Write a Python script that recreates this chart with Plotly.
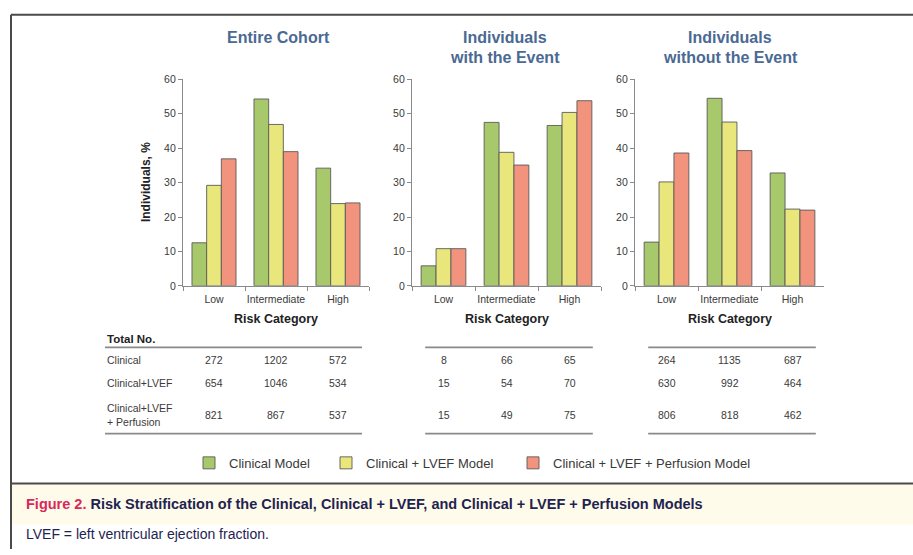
import plotly.graph_objects as go

# ---- data -------------------------------------------------------------
categories = ["Low", "Intermediate", "High"]

model_names = ["Clinical Model", "Clinical + LVEF Model", "Clinical + LVEF + Perfusion Model"]
model_colors = ["#a8c86c", "#e9e77b", "#f2937d"]

panel_titles = [["Entire Cohort"], ["Individuals", "with the Event"], ["Individuals", "without the Event"]]

# percentage of individuals per risk category
entire_clinical = [12.5, 54.3, 34.2]
entire_lvef = [29.2, 46.9, 23.9]
entire_perf = [36.9, 39.0, 24.1]

event_clinical = [5.8, 47.5, 46.6]
event_lvef = [10.8, 38.8, 50.4]
event_perf = [10.8, 35.1, 53.8]

noevent_clinical = [12.7, 54.5, 32.8]
noevent_lvef = [30.2, 47.6, 22.3]
noevent_perf = [38.6, 39.3, 22.0]

# total numbers per risk category
row_labels = ["Clinical", "Clinical+LVEF", "Clinical+LVEF<br>+ Perfusion"]
entire_counts = [[272, 1202, 572], [654, 1046, 534], [821, 867, 537]]
event_counts = [[8, 66, 65], [15, 54, 70], [15, 49, 75]]
noevent_counts = [[264, 1135, 687], [630, 992, 464], [806, 818, 462]]

y_ticks = [0, 10, 20, 30, 40, 50, 60]

panels = [
    ([entire_clinical, entire_lvef, entire_perf], entire_counts),
    ([event_clinical, event_lvef, event_perf], event_counts),
    ([noevent_clinical, noevent_lvef, noevent_perf], noevent_counts),
]

# ---- page geometry (pixels) ------------------------------------------
W, H = 913, 555


def fx(px):
    return px / W


def fy(py):
    return 1 - py / H


x_domains = [(183, 369), (412, 601), (635, 824)]
y_domain = (286, 75)

FONT = "Liberation Sans, Arial, Helvetica, sans-serif"
AXIS_GRAY = "#8a8a8a"
TEXT_GRAY = "#3a3a3a"
TITLE_BLUE = "#4a6993"

# one legend box per model so each entry sits at its own spot
legend_ids = ["legend", "legend2", "legend3"]
legend_x = [189, 326, 513]

fig = go.Figure()

for p, (series, counts) in enumerate(panels):
    xa = "x" if p == 0 else f"x{p + 1}"
    ya = "y" if p == 0 else f"y{p + 1}"
    for name, color, vals, lg in zip(model_names, model_colors, series, legend_ids):
        fig.add_trace(go.Bar(
            x=categories, y=vals, name=name, xaxis=xa, yaxis=ya,
            marker=dict(color=color, line=dict(color="#5a5a5a", width=0.9)),
            showlegend=(p == 0), legendgroup=name, legend=lg, hoverinfo="x+y",
        ))

axis_common = dict(
    showline=True, linecolor=AXIS_GRAY, linewidth=1.2,
    ticks="outside", tickcolor=AXIS_GRAY, ticklen=4, tickwidth=1.2,
    showgrid=False, zeroline=False, fixedrange=True,
    tickfont=dict(family=FONT, size=10.5, color=TEXT_GRAY),
)

layout_axes = {}
for p, (x0, x1) in enumerate(x_domains):
    sfx = "" if p == 0 else str(p + 1)
    layout_axes[f"xaxis{sfx}"] = dict(
        axis_common, domain=[fx(x0), fx(x1)], type="category",
        categoryorder="array", categoryarray=categories,
        range=[-0.5, 2.5], tickson="boundaries", tickangle=0,
        ticklabelstandoff=3, anchor=f"y{sfx}",
    )
    layout_axes[f"yaxis{sfx}"] = dict(
        axis_common, domain=[fy(y_domain[0]), fy(y_domain[1])],
        range=[0, 60], tickvals=y_ticks, anchor=f"x{sfx}",
    )

annotations = []
shapes = []

# panel titles (one annotation per line)
title_centers = [278, 505, 730]
title_lines_y = [32, 53]
for lines, cx in zip(panel_titles, title_centers):
    for line, ly in zip(lines, title_lines_y):
        annotations.append(dict(
            text=f"<b>{line}</b>", x=fx(cx), y=fy(ly), xref="paper", yref="paper",
            xanchor="center", yanchor="middle", showarrow=False,
            font=dict(family=FONT, size=16, color=TITLE_BLUE),
        ))

# axis titles
annotations.append(dict(
    text="<b>Individuals, %</b>", x=fx(146), y=fy(180), xref="paper", yref="paper",
    textangle=-90, showarrow=False, xanchor="center", yanchor="middle",
    font=dict(family=FONT, size=12, color="#222"),
))
for p, (x0, x1) in enumerate(x_domains):
    annotations.append(dict(
        text="<b>Risk Category</b>", x=fx((x0 + x1) / 2), y=fy(320),
        xref="paper", yref="paper", showarrow=False,
        xanchor="center", yanchor="middle",
        font=dict(family=FONT, size=12.5, color="#222"),
    ))

# table of total numbers under each panel
row_y = [362, 385, 418]
annotations.append(dict(
    text="<b>Total No.</b>", x=fx(105), y=fy(340), xref="paper", yref="paper",
    xanchor="left", yanchor="middle", showarrow=False,
    font=dict(family=FONT, size=11.5, color="#222"),
))
for label, ry in zip(row_labels, row_y):
    annotations.append(dict(
        text=label, x=fx(105), y=fy(ry), xref="paper", yref="paper",
        xanchor="left", yanchor="middle", showarrow=False, align="left",
        font=dict(family=FONT, size=10.5, color=TEXT_GRAY),
    ))

for p, (series, counts) in enumerate(panels):
    xa = "x" if p == 0 else f"x{p + 1}"
    for row, ry in zip(counts, row_y):
        for cat, n in zip(categories, row):
            annotations.append(dict(
                text=str(n), x=cat, y=fy(ry), xref=xa, yref="paper",
                xanchor="center", yanchor="middle", showarrow=False,
                font=dict(family=FONT, size=10.5, color=TEXT_GRAY),
            ))
    for ly in (349, 437):
        if p == 0:
            shapes.append(dict(type="line", xref="paper", yref="paper",
                               x0=fx(105), x1=fx(362), y0=fy(ly), y1=fy(ly),
                               line=dict(color=AXIS_GRAY, width=1.8)))
        else:
            shapes.append(dict(type="line", xref=xa, yref="paper",
                               x0=-0.29, x1=2.37, y0=fy(ly), y1=fy(ly),
                               line=dict(color=AXIS_GRAY, width=1.8)))

# frame around the figure and caption band
FRAME = "#4a4a4a"
shapes += [
    dict(type="rect", xref="paper", yref="paper", x0=fx(12), x1=1.0,
         y0=fy(530), y1=fy(488), fillcolor="#fffbea", line=dict(width=0), layer="below"),
    dict(type="line", xref="paper", yref="paper", x0=fx(11), x1=1.0,
         y0=fy(9), y1=fy(9), line=dict(color=FRAME, width=2)),
    dict(type="line", xref="paper", yref="paper", x0=fx(11), x1=fx(11),
         y0=fy(9), y1=0, line=dict(color=FRAME, width=2)),
    dict(type="line", xref="paper", yref="paper", x0=fx(11), x1=1.0,
         y0=fy(488), y1=fy(488), line=dict(color=FRAME, width=2)),
]

annotations.append(dict(
    text=("<b><span style='color:#d8285a'>Figure 2.</span> Risk Stratification of the "
          "Clinical, Clinical + LVEF, and Clinical + LVEF + Perfusion Models</b>"),
    x=fx(24), y=fy(509), xref="paper", yref="paper", xanchor="left", yanchor="middle",
    showarrow=False, font=dict(family=FONT, size=14.5, color="#1f2350"),
))
annotations.append(dict(
    text="LVEF = left ventricular ejection fraction.",
    x=fx(24), y=fy(540), xref="paper", yref="paper", xanchor="left", yanchor="middle",
    showarrow=False, font=dict(family=FONT, size=14, color="#1f2350"),
))

legend_style = dict(orientation="h", xanchor="left", yanchor="middle", y=fy(467),
                    font=dict(family=FONT, size=13, color="#3a3a3a"),
                    bgcolor="rgba(0,0,0,0)", itemclick=False, itemdoubleclick=False)
legends = {lg: dict(legend_style, x=fx(lx)) for lg, lx in zip(legend_ids, legend_x)}

fig.update_layout(
    width=W, height=H, margin=dict(l=0, r=0, t=0, b=0),
    paper_bgcolor="white", plot_bgcolor="white",
    barmode="group", bargap=0.29, bargroupgap=0,
    showlegend=True,
    annotations=annotations, shapes=shapes,
    **legends,
    **layout_axes,
)

fig.write_html("out.html")
